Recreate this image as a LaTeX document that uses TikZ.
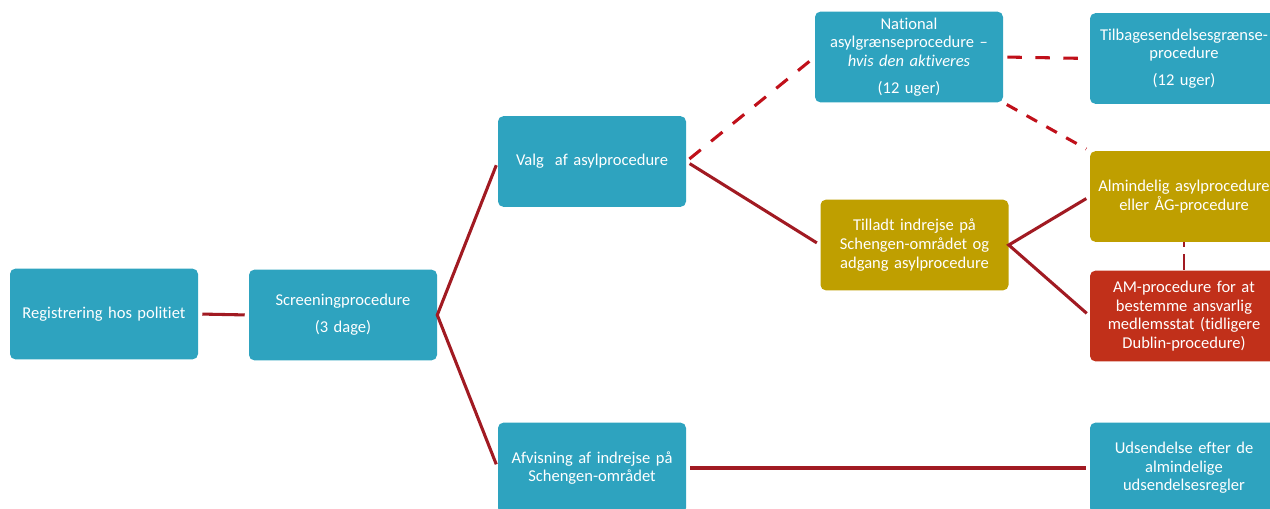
\documentclass[tikz,border=0pt]{standalone}
\usepackage{fontspec}
\setmainfont[Ligatures={NoCommon}]{Carlito}
\definecolor{boxteal}{HTML}{2EA3BF}
\definecolor{boxgold}{HTML}{BF9F00}
\definecolor{boxred}{HTML}{C1301A}
\definecolor{linkred}{HTML}{A11A22}
\definecolor{dashred}{HTML}{C0101A}
\tikzset{
  procbox/.style={rounded corners=4pt, minimum width=141pt, minimum height=68pt,
    text width=141pt, align=center, inner sep=0pt, text=white,
    font=\fontsize{12.4}{14}\selectfont},
  link/.style={draw=linkred, line width=2.3pt, shorten >=3pt, shorten <=3pt},
  dashlink/.style={draw=dashred, line width=2.3pt, dash pattern=on 11pt off 10pt, shorten >=3pt, shorten <=3pt},
  dotlink/.style={draw=linkred, line width=2pt, dash pattern=on 4pt off 5pt on 9pt off 0pt}
}
\begin{document}
\begin{tikzpicture}[x=0.75pt, y=-0.75pt]
  \useasboundingbox (0,0) rectangle (1270,509);
  \node[procbox, fill=boxteal] (reg) at (104,314) {Registrering hos politiet};
  \node[procbox, fill=boxteal] (screen) at (343,315) {Screeningprocedure\\[6pt](3 dage)};
  \node[procbox, fill=boxteal] (valg) at (592,161.5) {Valg\ \ af asylprocedure};
  \node[procbox, fill=boxteal] (afvis) at (592,468) {Afvisning af indrejse på\\Schengen-området};
  \node[procbox, fill=boxteal] (natl) at (909,57) {National\\asylgrænseprocedure --\\\textit{hvis den aktiveres}\\[6pt](12 uger)};
  \node[procbox, fill=boxteal] (tilbage) at (1184,58.5) {Tilbagesendelsesgrænse-\\procedure\\[6pt](12 uger)};
  \node[procbox, fill=boxgold] (tilladt) at (914.5,245) {Tilladt indrejse på\\Schengen-området og\\adgang asylprocedure};
  \node[procbox, fill=boxgold] (alm) at (1184,196.5) {Almindelig asylprocedure\\eller ÅG-procedure};
  \node[procbox, fill=boxred] (amproc) at (1184,316) {AM-procedure for at\\bestemme ansvarlig\\medlemsstat (tidligere\\Dublin-procedure)};
  \node[procbox, fill=boxteal] (udsend) at (1184,468) {Udsendelse efter de\\almindelige\\udsendelsesregler};

  \draw[link] (reg.east) -- (screen.west);
  \draw[link] (valg.west) -- (screen.east) -- (afvis.west);
  \draw[dashlink] (valg.east) -- (natl.west);
  \draw[link] (valg.east) -- (tilladt.west);
  \draw[dashlink] (natl.east) -- (tilbage.west);
  \draw[dashlink, dash pattern=on 9pt off 8pt] (natl.south east) -- (alm.north west);
  \draw[link] (alm.west) -- (tilladt.east) -- (amproc.west);
  \draw[dotlink] (alm.south) -- (amproc.north);
  \draw[link] (afvis.east) -- (udsend.west);
\end{tikzpicture}
\end{document}
